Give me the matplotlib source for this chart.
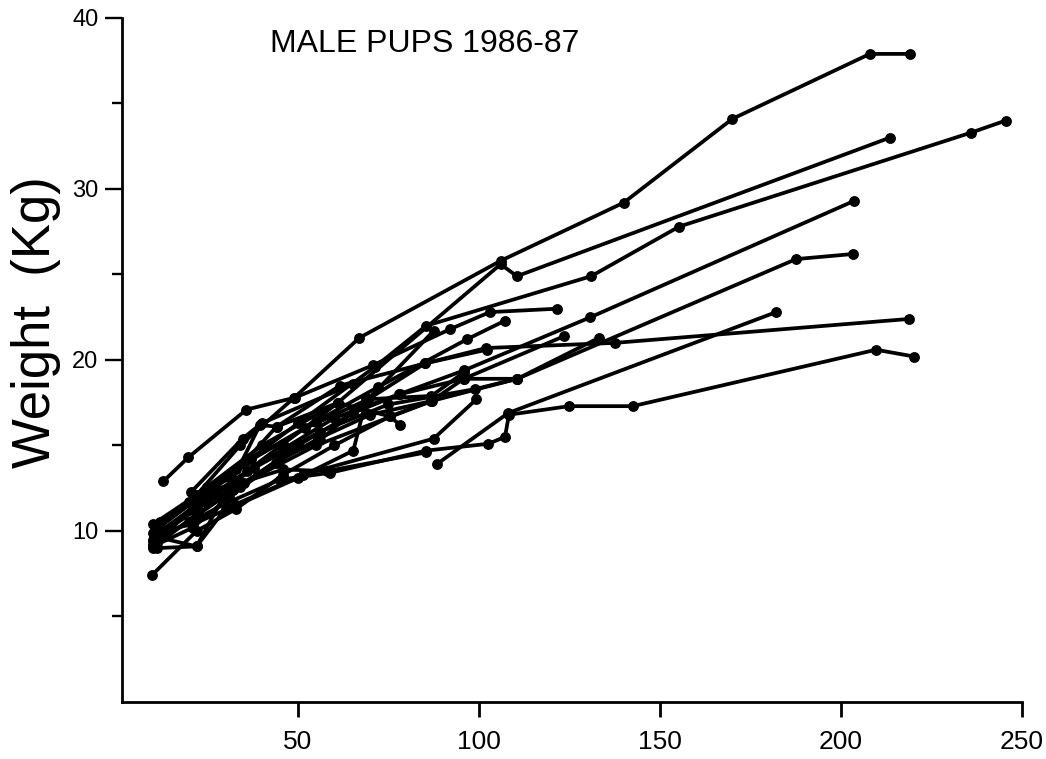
import matplotlib
matplotlib.use("Agg")
import matplotlib.pyplot as plt

# age (days) and weight (kg) for each pup, one pair of lists per animal
pup01_age = [10, 22, 34, 49, 67, 106, 140, 170, 208, 219]
pup01_wt = [10.4, 12.1, 15.0, 17.8, 21.3, 25.8, 29.2, 34.1, 37.9, 37.9]
pup02_age = [12, 25, 40, 61, 106, 110.5, 213.5]
pup02_wt = [10.5, 12.6, 15.0, 17.5, 25.6, 24.9, 33.0]
pup03_age = [11, 22, 33, 50, 71.3, 85.4, 131, 155.3, 236, 245.5]
pup03_wt = [9.6, 11.6, 13.6, 16.3, 19.6, 22.0, 24.9, 27.8, 33.3, 34.0]
pup04_age = [10, 21, 32, 46, 60, 78, 96, 130.8, 203.6]
pup04_wt = [9.5, 11.2, 12.9, 14.8, 16.6, 18.0, 19.4, 22.5, 29.3]
pup05_age = [12.8, 19.7, 35.8, 49.2, 70.8, 92, 103, 121.7]
pup05_wt = [12.9, 14.3, 17.1, 17.8, 19.7, 21.8, 22.8, 23.0]
pup06_age = [10, 22, 35, 55, 86.9, 110.6, 187.6, 203.4]
pup06_wt = [9.2, 10.9, 12.8, 15.0, 17.6, 18.9, 25.9, 26.2]
pup07_age = [10, 20, 30, 45, 58.8, 85.4, 102.6, 107.2, 108.3, 124.9, 142.5, 209.7, 220.3]
pup07_wt = [9.4, 10.5, 11.6, 13.0, 13.4, 14.7, 15.1, 15.5, 16.8, 17.3, 17.3, 20.6, 20.2]
pup08_age = [88.3, 108.1, 182.1]
pup08_wt = [13.9, 16.9, 22.8]
pup09_age = [11, 23, 35, 52, 69.4, 85.1, 102, 137.5, 218.8]
pup09_wt = [10.1, 12.0, 13.9, 16.0, 17.7, 19.8, 20.7, 21.0, 22.4]
pup10_age = [11, 24, 37, 55, 72, 96.6, 107.2]
pup10_wt = [10.3, 12.3, 14.2, 16.4, 18.4, 21.2, 22.3]
pup11_age = [12, 25, 38, 56, 75, 99, 110.6, 133.2]
pup11_wt = [9.8, 11.7, 13.7, 15.8, 17.4, 18.3, 18.9, 21.3]
pup12_age = [10, 22, 34, 50, 65.2, 78.2, 95.8, 123.6]
pup12_wt = [9.0, 11.0, 12.6, 15.0, 16.9, 18.0, 18.9, 21.4]
pup13_age = [11, 22, 30, 51.5, 87.5, 99.3]
pup13_wt = [9.0, 9.1, 11.3, 13.3, 15.4, 17.7]
pup14_age = [10, 21, 33, 50, 65.3, 68.9, 86.9, 96]
pup14_wt = [9.9, 10.4, 11.5, 13.1, 14.7, 17.7, 17.9, 19.3]
pup15_age = [20.6, 34.7, 40, 65.2]
pup15_wt = [12.3, 15.4, 16.3, 18.6]
pup16_age = [11, 22, 32, 45, 56, 69.4, 87.5]
pup16_wt = [9.8, 11.4, 12.4, 14.2, 15.3, 17.7, 21.7]
pup17_age = [12, 24, 36, 46, 61.1, 75.4, 78.2]
pup17_wt = [10.0, 11.8, 13.5, 15.1, 17.5, 16.7, 16.2]
pup18_age = [9.6, 22, 33, 46, 60, 75.4, 87]
pup18_wt = [7.4, 10.0, 11.3, 13.3, 15.0, 16.7, 17.6]
pup19_age = [11, 20, 31.2, 44.1, 61.6, 85.1, 102.1]
pup19_wt = [10.2, 11.7, 13.1, 16.1, 18.5, 19.8, 20.6]
pup20_age = [11, 25.7, 34, 46, 58, 85.5]
pup20_wt = [9.3, 12.4, 12.8, 13.6, 13.5, 14.6]
pup21_age = [10, 21, 31, 44, 55.6, 70, 86.9, 95.8, 110.4]
pup21_wt = [9.1, 10.2, 12.0, 14.0, 15.4, 16.8, 17.6, 18.9, 18.9]
pup22_age = [12, 22, 32, 39.5, 44.1, 61.1]
pup22_wt = [9.6, 9.1, 13.0, 16.2, 16.1, 17.5]

pups = [
    (pup01_age, pup01_wt), (pup02_age, pup02_wt), (pup03_age, pup03_wt),
    (pup04_age, pup04_wt), (pup05_age, pup05_wt), (pup06_age, pup06_wt),
    (pup07_age, pup07_wt), (pup08_age, pup08_wt), (pup09_age, pup09_wt),
    (pup10_age, pup10_wt), (pup11_age, pup11_wt), (pup12_age, pup12_wt),
    (pup13_age, pup13_wt), (pup14_age, pup14_wt), (pup15_age, pup15_wt),
    (pup16_age, pup16_wt), (pup17_age, pup17_wt), (pup18_age, pup18_wt),
    (pup19_age, pup19_wt), (pup20_age, pup20_wt), (pup21_age, pup21_wt),
    (pup22_age, pup22_wt),
]

x_ticks = [50, 100, 150, 200, 250]
y_ticks = [10, 20, 30, 40]
y_minor = [5, 15, 25, 35]

plt.rcParams['font.family'] = ['Liberation Sans', 'DejaVu Sans']

fig = plt.figure(figsize=(10.46, 7.59), dpi=100)
ax = fig.add_axes([0.1166, 0.0751, 0.8604, 0.9012])

for age, wt in pups:
    ax.plot(age, wt, color="black", lw=2.7, marker="o", ms=6.8,
            solid_joinstyle="round", solid_capstyle="round")

ax.set_xlim(1.4, 250)
ax.set_ylim(0, 40)

for side in ["top", "right"]:
    ax.spines[side].set_visible(False)
for side in ["left", "bottom"]:
    ax.spines[side].set_linewidth(2.0)

ax.set_xticks(x_ticks)
ax.set_xticklabels([str(v) for v in x_ticks], fontsize=19)
ax.set_yticks(y_ticks)
ax.set_yticklabels([str(v) for v in y_ticks], fontsize=17)
ax.set_yticks(y_minor, minor=True)
ax.tick_params(axis="x", length=11, width=2.0, pad=9)
ax.tick_params(axis="y", which="major", length=12, width=1.7, pad=5)
ax.tick_params(axis="y", which="minor", length=7, width=1.7)

ax.set_ylabel("Weight  (Kg)", fontsize=38)
ax.yaxis.set_label_coords(-0.068, 0.556)

fig.text(270 / 1046, 1 - 52 / 759, "MALE PUPS 1986-87", fontsize=23,
         va="baseline", ha="left")

plt.savefig("out.png", dpi=100)
